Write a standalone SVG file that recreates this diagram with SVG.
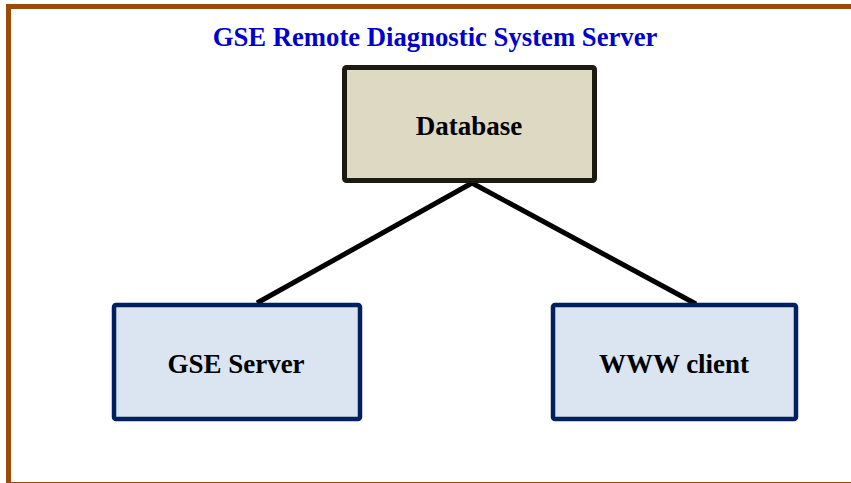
<svg xmlns="http://www.w3.org/2000/svg" width="851" height="483" viewBox="0 0 851 483">
<style>
.lbl{font-family:"Liberation Serif","Times New Roman",serif;font-weight:bold;font-size:27px;fill:#000;text-anchor:middle}
.blue{fill:#DBE5F1;stroke:#002060;stroke-width:4.5}
.conn{stroke:#000;stroke-width:5;fill:none}
</style>
<rect x="0" y="0" width="851" height="483" fill="#fff"/>
<g id="frame">
<rect x="8.5" y="6.5" width="860" height="478" fill="none" stroke="#9C4A08" stroke-width="5"/>
<text x="435" y="46" style="font-family:'Liberation Serif','Times New Roman',serif;font-weight:bold;font-size:26.7px;fill:#0000CC;text-anchor:middle">GSE Remote Diagnostic System Server</text>
</g>
<g id="connectors">
<line class="conn" x1="472" y1="183" x2="257" y2="303"/>
<line class="conn" x1="472" y1="183" x2="696" y2="304"/>
</g>
<g id="database">
<rect x="344.5" y="67.5" width="250" height="113" rx="2" fill="#DDD9C3" stroke="#1D1B11" stroke-width="5"/>
<text class="lbl" x="469" y="135">Database</text>
</g>
<g id="gse-server">
<rect class="blue" x="114" y="305" width="246" height="114" rx="2"/>
<text class="lbl" x="236" y="373">GSE Server</text>
</g>
<g id="www-client">
<rect class="blue" x="553" y="305" width="243" height="114" rx="2"/>
<text class="lbl" x="674" y="373">WWW client</text>
</g>
</svg>
